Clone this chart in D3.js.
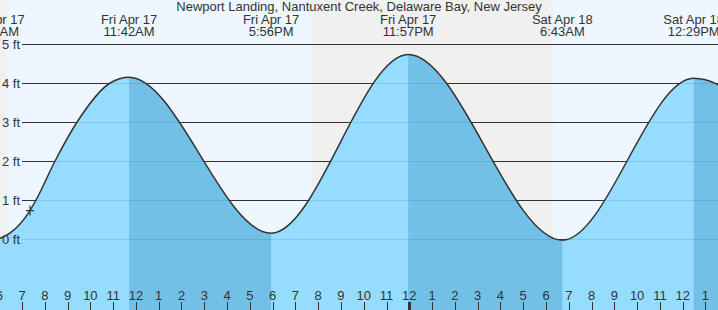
<!DOCTYPE html>
<html>
<head>
<meta charset="utf-8">
<script src="https://cdn.jsdelivr.net/npm/d3@7"></script>
<style>
  body { margin: 0; background: #fff; }
  svg { display: block; font-family: "Liberation Sans", Arial, sans-serif; }
</style>
</head>
<body>
<div id="chart"></div>
<script>
const title = "Newport Landing, Nantuxent Creek, Delaware Bay, New Jersey";

// tide height readings (local time, ft)
const curveTimes = ["2026-04-16T23:30", "2026-04-17T05:35", "2026-04-17T06:02", "2026-04-17T06:28",
  "2026-04-17T07:21", "2026-04-17T07:37", "2026-04-17T08:27", "2026-04-17T09:25", "2026-04-17T10:52",
  "2026-04-17T11:42", "2026-04-17T17:56", "2026-04-17T23:57", "2026-04-18T06:43", "2026-04-18T12:29",
  "2026-04-18T18:45"];
const curveHeights = [4.55, -0.05, 0.02, 0.15, 0.73, 1.0, 2.0, 3.0, 4.0, 4.15, 0.15, 4.73, -0.03, 4.12, 0.2];

// high / low tides
const extremeTimes = ["2026-04-17T05:53", "2026-04-17T11:42", "2026-04-17T17:56", "2026-04-17T23:57",
  "2026-04-18T06:43", "2026-04-18T12:29", "2026-04-18T18:45"];
const extremeTypes = ["L", "H", "L", "H", "L", "H", "L"];
const extremeDays = ["Fri Apr 17", "Fri Apr 17", "Fri Apr 17", "Fri Apr 17", "Sat Apr 18", "Sat Apr 18", "Sat Apr 18"];
const extremeLabels = ["5:53AM", "11:42AM", "5:56PM", "11:57PM", "6:43AM", "12:29PM", "6:45PM"];

// night periods
const nightStart = ["2026-04-17T00:00", "2026-04-17T19:41"];
const nightEnd = ["2026-04-17T06:20", "2026-04-18T06:19"];

const yTicks = [0, 1, 2, 3, 4, 5];
const nowTime = "2026-04-17T07:21", nowHeight = 0.73;

const W = 718, H = 310;
const parse = d3.timeParse("%Y-%m-%dT%H:%M");

const svg = d3.select("#chart").append("svg").attr("width", W).attr("height", H);

const x = d3.scaleTime()
  .domain([parse("2026-04-17T06:02"), parse("2026-04-18T13:33")])
  .range([0, W]);
const y = d3.scaleLinear().domain([0, 5]).range([239, 44]);

const pts = curveTimes.map((t, i) => ({ t: parse(t), h: curveHeights[i] }));

// background
svg.append("rect").attr("width", W).attr("height", H).attr("fill", "#eef7ff");
svg.selectAll(".night").data(nightStart).enter().append("rect")
  .attr("x", (d) => Math.max(0, x(parse(d))))
  .attr("width", (d, i) => x(parse(nightEnd[i])) - Math.max(0, x(parse(d))))
  .attr("y", 0).attr("height", H).attr("fill", "#f0f0f0");

// grid lines (above water)
const grid = (g, color) => g.selectAll("line").data(yTicks).enter().append("line")
  .attr("x1", 22).attr("x2", W)
  .attr("y1", (d) => Math.round(y(d)) + 0.5).attr("y2", (d) => Math.round(y(d)) + 0.5)
  .attr("stroke", color).attr("stroke-width", 1);
svg.append("g").call(grid, "#333");

// water
const area = d3.area().x((d) => x(d.t)).y0(H).y1((d) => y(d.h)).curve(d3.curveMonotoneX);
const line = d3.line().x((d) => x(d.t)).y((d) => y(d.h)).curve(d3.curveMonotoneX);

svg.append("path").datum(pts).attr("d", area).attr("fill", "#96dcff");

// falling tide (high -> next low) in darker blue
const ebb = [];
extremeTypes.forEach((k, i) => {
  if (k === "H") ebb.push([parse(extremeTimes[i]), extremeTimes[i + 1] ? parse(extremeTimes[i + 1]) : x.domain()[1]]);
});
const defs = svg.append("defs");
defs.append("clipPath").attr("id", "ebbClip").selectAll("rect").data(ebb).enter().append("rect")
  .attr("x", (d) => x(d[0])).attr("width", (d) => x(d[1]) - x(d[0]))
  .attr("y", 0).attr("height", H);
defs.append("clipPath").attr("id", "waterClip").append("path").datum(pts).attr("d", area);

svg.append("path").datum(pts).attr("d", area).attr("fill", "#72c0e6").attr("clip-path", "url(#ebbClip)");

// grid lines under water
svg.append("g").attr("clip-path", "url(#waterClip)").call(grid, "rgba(0,90,160,0.15)");

svg.append("path").datum(pts).attr("d", line)
  .attr("fill", "none").attr("stroke", "#333").attr("stroke-width", 1.5);

// current time marker
const nx = x(parse(nowTime)), ny = y(nowHeight);
svg.append("path").attr("d", `M${nx - 4},${ny}H${nx + 4}M${nx},${ny - 5}V${ny + 5}`)
  .attr("stroke", "#333").attr("stroke-width", 1.2);

// hour axis
const hours = d3.timeHour.range(parse("2026-04-17T06:00"), x.domain()[1]);
const ax = svg.append("g").attr("fill", "#333").style("font-size", "13px");
ax.selectAll("line").data(hours).enter().append("line")
  .attr("x1", (d) => Math.round(x(d)) + 0.5).attr("x2", (d) => Math.round(x(d)) + 0.5)
  .attr("y1", 302).attr("y2", H)
  .attr("stroke", "#333").attr("stroke-width", (d) => (d.getHours() === 0 ? 3 : 1));
ax.selectAll("text").data(hours).enter().append("text")
  .attr("x", (d) => x(d)).attr("y", 300).attr("text-anchor", "middle")
  .text((d) => d.getHours() % 12 || 12);

// height labels
svg.append("g").selectAll("text").data(yTicks).enter().append("text")
  .attr("x", 20).attr("y", (d) => y(d) + 4.5).attr("text-anchor", "end")
  .attr("fill", "#333").style("font-size", "13px")
  .text((d) => d + " ft");

// high / low labels
const lab = svg.append("g").attr("fill", "#333").style("font-size", "13px").attr("text-anchor", "middle");
extremeTimes.forEach((t, i) => {
  const px = x(parse(t));
  lab.append("text").attr("x", px).attr("y", 24).text(extremeDays[i]);
  lab.append("text").attr("x", px).attr("y", 36).text(extremeLabels[i]);
});

svg.append("text").attr("x", W / 2).attr("y", 11).attr("text-anchor", "middle")
  .attr("fill", "#333").style("font-size", "13px").text(title);
</script>
</body>
</html>
